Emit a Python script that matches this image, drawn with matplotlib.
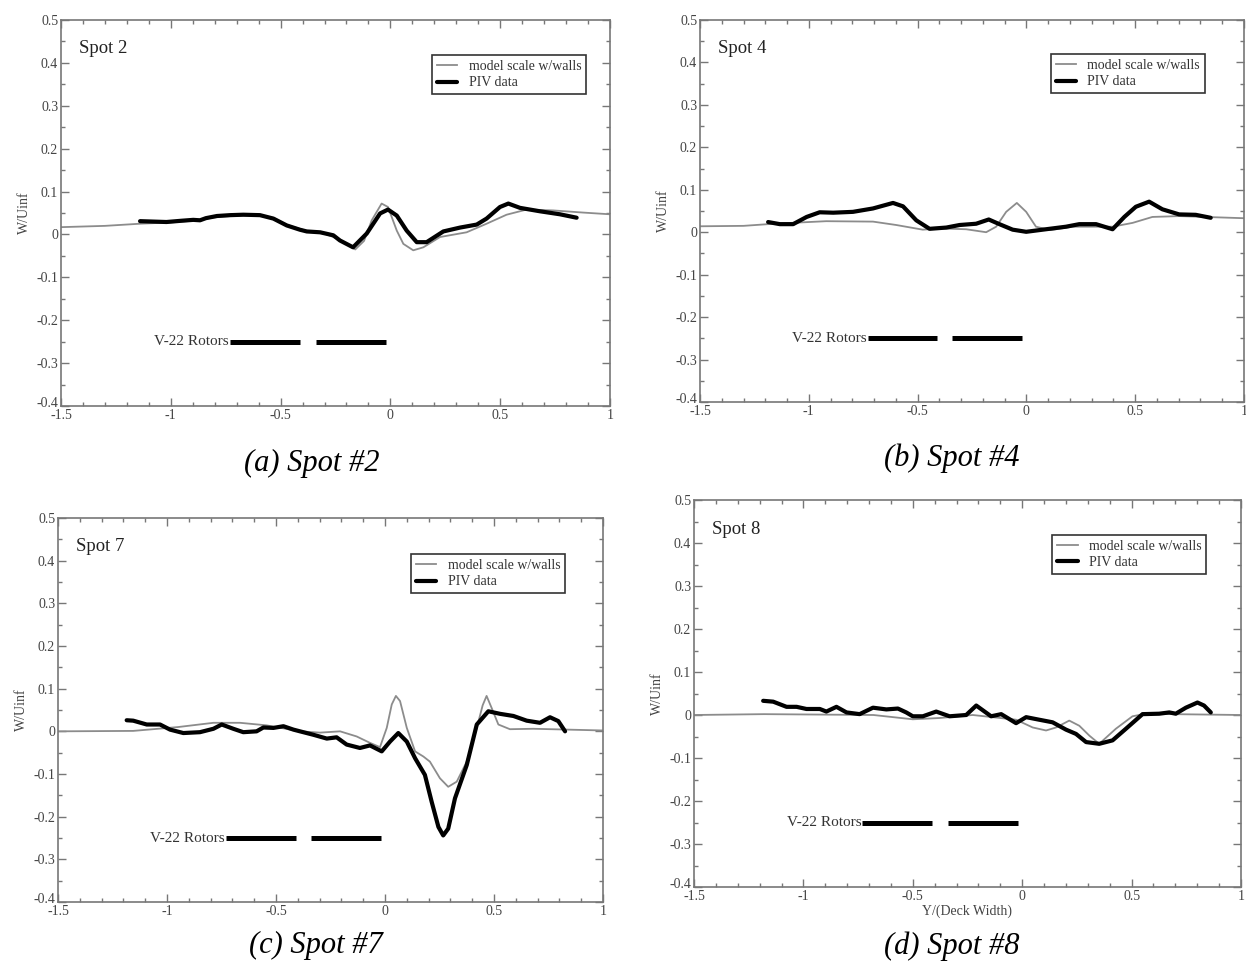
import numpy as np
import matplotlib
matplotlib.use('Agg')
import matplotlib.pyplot as plt
from matplotlib.ticker import MultipleLocator
from matplotlib.transforms import ScaledTranslation

plt.rcParams['font.family'] = ['Liberation Serif', 'DejaVu Serif']
plt.rcParams['axes.unicode_minus'] = False

# panel (a) spot 2
A_MODEL_X = [-1.5, -1.3, -1.14, -1.0, -0.9, -0.8, -0.7, -0.6, -0.53, -0.47, -0.38, -0.3, -0.23, -0.16,
             -0.12, -0.085, -0.04, -0.011, 0.029, 0.059, 0.104, 0.15, 0.226, 0.347, 0.438, 0.529, 0.62,
             0.742, 0.878, 1.0]
A_MODEL_Y = [0.017, 0.020, 0.025, 0.028, 0.032, 0.040, 0.044, 0.045, 0.038, 0.022, 0.008, 0.002, -0.012,
             -0.035, -0.015, 0.033, 0.072, 0.064, 0.009, -0.022, -0.037, -0.030, -0.006, 0.005, 0.025,
             0.046, 0.058, 0.056, 0.051, 0.047]
A_PIV_X = [-1.14, -1.08, -1.02, -0.95, -0.898, -0.867, -0.84, -0.79, -0.73, -0.67, -0.594, -0.533, -0.472,
           -0.412, -0.381, -0.32, -0.26, -0.23, -0.17, -0.108, -0.047, -0.011, 0.029, 0.074, 0.12, 0.165,
           0.241, 0.317, 0.393, 0.438, 0.499, 0.537, 0.59, 0.681, 0.772, 0.848]
A_PIV_Y = [0.031, 0.030, 0.029, 0.032, 0.034, 0.033, 0.038, 0.043, 0.045, 0.046, 0.045, 0.037, 0.021,
           0.011, 0.007, 0.005, -0.002, -0.014, -0.030, 0.002, 0.049, 0.058, 0.044, 0.009, -0.018,
           -0.018, 0.007, 0.016, 0.023, 0.037, 0.064, 0.072, 0.062, 0.054, 0.047, 0.039]

# panel (b) spot 4
B_MODEL_X = [-1.5, -1.3, -1.16, -0.92, -0.705, -0.598, -0.476, -0.399, -0.277, -0.185, -0.139, -0.093,
             -0.044, -0.001, 0.044, 0.11, 0.212, 0.396, 0.488, 0.579, 0.702, 1.0]
B_MODEL_Y = [0.014, 0.015, 0.020, 0.026, 0.025, 0.017, 0.006, 0.009, 0.007, 0.000, 0.013, 0.048, 0.069,
             0.048, 0.013, 0.005, 0.013, 0.013, 0.022, 0.036, 0.038, 0.033]
B_PIV_X = [-1.187, -1.133, -1.072, -1.01, -0.95, -0.888, -0.797, -0.705, -0.613, -0.567, -0.506, -0.445,
           -0.368, -0.307, -0.231, -0.173, -0.124, -0.063, -0.001, 0.09, 0.182, 0.243, 0.32, 0.396, 0.45,
           0.503, 0.564, 0.625, 0.702, 0.778, 0.847]
B_PIV_Y = [0.024, 0.019, 0.019, 0.036, 0.047, 0.046, 0.048, 0.056, 0.069, 0.061, 0.028, 0.008, 0.011,
           0.017, 0.020, 0.030, 0.019, 0.006, 0.001, 0.007, 0.013, 0.019, 0.019, 0.007, 0.036, 0.060,
           0.072, 0.054, 0.042, 0.041, 0.034]

# panel (c) spot 7
C_MODEL_X = [-1.5, -1.155, -0.95, -0.787, -0.665, -0.543, -0.39, -0.298, -0.206, -0.13, -0.069, -0.023,
             0.008, 0.031, 0.05, 0.069, 0.1, 0.138, 0.176, 0.206, 0.252, 0.29, 0.329, 0.375, 0.421, 0.448,
             0.466, 0.489, 0.52, 0.573, 0.68, 1.0]
C_MODEL_Y = [0.0, 0.001, 0.010, 0.020, 0.020, 0.014, 0.0, -0.003, 0.0, -0.012, -0.027, -0.037, 0.008,
             0.063, 0.083, 0.071, 0.008, -0.047, -0.059, -0.071, -0.110, -0.130, -0.118, -0.071, 0.008,
             0.061, 0.083, 0.055, 0.016, 0.005, 0.006, 0.002]
C_PIV_X = [-1.185, -1.155, -1.093, -1.032, -0.986, -0.925, -0.849, -0.787, -0.749, -0.696, -0.65, -0.589,
           -0.558, -0.512, -0.466, -0.42, -0.39, -0.329, -0.267, -0.222, -0.176, -0.115, -0.069, -0.015,
           0.023, 0.061, 0.1, 0.138, 0.183, 0.214, 0.245, 0.267, 0.29, 0.321, 0.375, 0.421, 0.474, 0.528,
           0.589, 0.65, 0.711, 0.757, 0.795, 0.826]
C_PIV_Y = [0.026, 0.025, 0.016, 0.016, 0.004, -0.004, -0.002, 0.006, 0.016, 0.006, -0.002, 0.0, 0.009,
           0.008, 0.012, 0.004, 0.0, -0.008, -0.017, -0.014, -0.031, -0.039, -0.033, -0.047, -0.024,
           -0.004, -0.024, -0.063, -0.102, -0.165, -0.224, -0.244, -0.228, -0.157, -0.079, 0.016, 0.047,
           0.041, 0.036, 0.025, 0.020, 0.033, 0.024, 0.0]

# panel (d) spot 8
D_MODEL_X = [-1.5, -1.18, -0.68, -0.59, -0.5, -0.378, -0.226, -0.028, 0.048, 0.109, 0.155, 0.215, 0.261,
             0.307, 0.352, 0.428, 0.504, 0.565, 0.687, 1.0]
D_MODEL_Y = [0.0, 0.002, 0.0, -0.005, -0.010, -0.007, 0.0, -0.011, -0.029, -0.036, -0.029, -0.013,
             -0.025, -0.048, -0.067, -0.032, -0.003, 0.003, 0.002, 0.0]
D_PIV_X = [-1.184, -1.138, -1.077, -1.031, -0.986, -0.925, -0.895, -0.849, -0.803, -0.743, -0.682, -0.621,
           -0.568, -0.53, -0.5, -0.454, -0.393, -0.332, -0.256, -0.21, -0.142, -0.096, -0.028, 0.018,
           0.078, 0.139, 0.2, 0.246, 0.292, 0.352, 0.413, 0.474, 0.55, 0.626, 0.672, 0.702, 0.748, 0.801,
           0.831, 0.862]
D_PIV_Y = [0.033, 0.031, 0.019, 0.019, 0.014, 0.014, 0.008, 0.019, 0.006, 0.002, 0.017, 0.013, 0.015,
           0.006, -0.003, -0.003, 0.008, -0.003, 0.0, 0.022, -0.003, 0.002, -0.019, -0.005, -0.011,
           -0.017, -0.034, -0.044, -0.063, -0.067, -0.059, -0.032, 0.002, 0.003, 0.006, 0.003, 0.017,
           0.029, 0.022, 0.006]

ROTOR_SPANS = [(-0.73, -0.41), (-0.34, -0.02)]
ROTOR_Y = -0.25

SPOT_LABELS = ['Spot 2', 'Spot 4', 'Spot 7', 'Spot 8']
CAPTIONS = ['(a) Spot #2', '(b) Spot #4', '(c) Spot #7', '(d) Spot #8']
MODEL_X = [A_MODEL_X, B_MODEL_X, C_MODEL_X, D_MODEL_X]
MODEL_Y = [A_MODEL_Y, B_MODEL_Y, C_MODEL_Y, D_MODEL_Y]
PIV_X = [A_PIV_X, B_PIV_X, C_PIV_X, D_PIV_X]
PIV_Y = [A_PIV_Y, B_PIV_Y, C_PIV_Y, D_PIV_Y]

W, H = 1246, 967
# axes boxes in pixels: left, top, right, bottom
boxes = [(61, 20, 610, 406), (700, 20, 1244, 402), (58, 518, 603, 902), (694, 500, 1241, 887)]
legend_anchor = [(0.969, 0.927), (0.941, 0.929), (0.943, 0.924), (0.949, 0.928)]
caption_pos = [(312, 463), (952, 458), (316, 945), (952, 946)]

fig = plt.figure(figsize=(W / 100, H / 100), dpi=100)
grey = '#777777'

for i in range(4):
    l, t, r, b = boxes[i]
    ax = fig.add_axes([l / W, 1 - b / H, (r - l) / W, (b - t) / H])
    ax.plot(MODEL_X[i], MODEL_Y[i], color='#8c8c8c', lw=1.3, label='model scale w/walls')
    ax.plot(PIV_X[i], PIV_Y[i], color='black', lw=3, label='PIV data',
            solid_joinstyle='round', solid_capstyle='round')
    for x0, x1 in ROTOR_SPANS:
        ax.plot([x0, x1], [ROTOR_Y, ROTOR_Y], color='black', lw=3.6, solid_capstyle='butt')
    ax.text(ROTOR_SPANS[0][0] - 0.005, ROTOR_Y, 'V-22 Rotors', ha='right', va='center',
            fontsize=11, color='#333333')
    ax.text(0.033, 0.925, SPOT_LABELS[i], transform=ax.transAxes, fontsize=13.5,
            color='#222222', va='center')

    ax.set_xlim(-1.5, 1)
    ax.set_ylim(-0.4, 0.5)
    ax.xaxis.set_major_locator(MultipleLocator(0.5))
    ax.xaxis.set_minor_locator(MultipleLocator(0.1))
    ax.yaxis.set_major_locator(MultipleLocator(0.1))
    ax.yaxis.set_minor_locator(MultipleLocator(0.05))
    ax.xaxis.set_major_formatter(lambda v, p: f'{v:g}')
    ax.yaxis.set_major_formatter(lambda v, p: f'{round(v, 2):g}')
    ax.tick_params(which='both', direction='in', top=True, right=True, color=grey,
                   labelcolor='#444444', labelsize=10, pad=2)
    ax.tick_params(which='major', length=6, width=1)
    ax.tick_params(which='minor', length=3, width=1)
    for s in ax.spines.values():
        s.set_color(grey)
        s.set_linewidth(1.2)
    ax.set_ylabel('W/Uinf', fontsize=10, color='#444444', labelpad=4)
    if i == 3:
        ax.set_xlabel('Y/(Deck Width)', fontsize=10, color='#444444', labelpad=1)

    # lift the corner "-0.4" label a little, like the original
    fig.canvas.draw()
    for lab in ax.get_yticklabels():
        if lab.get_text() == '-0.4':
            lab.set_transform(lab.get_transform() + ScaledTranslation(0, 4 / 100, fig.dpi_scale_trans))

    leg = ax.legend(loc='upper right', bbox_to_anchor=legend_anchor[i], fontsize=10,
                    frameon=True, fancybox=False, framealpha=1, edgecolor='#333333',
                    handlelength=1.5, handletextpad=0.8, labelspacing=0.25, borderpad=0.35)
    leg.get_frame().set_linewidth(1.2)
    for txt in leg.get_texts():
        txt.set_color('#333333')

    cx, cy = caption_pos[i]
    fig.text(cx / W, 1 - cy / H, CAPTIONS[i], ha='center', va='center', fontsize=22,
             style='italic', color='black')

fig.savefig('out.png', dpi=100)
